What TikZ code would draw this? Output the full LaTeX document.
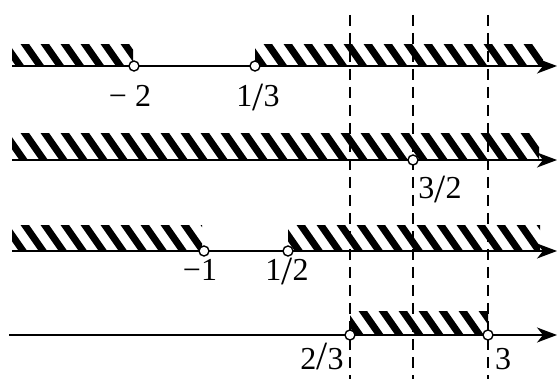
\documentclass[tikz,border=0pt]{standalone}
\usepackage{fontspec}
\setmainfont{Liberation Serif}
\usetikzlibrary{arrows.meta}
\tikzset{
 axis/.style={line width=1.6pt,-{Stealth[length=20pt,width=15pt,inset=6pt]}},
 hole/.style={circle,draw,fill=white,line width=1.4pt,minimum size=10pt,inner sep=0pt},
 guide/.style={line width=1.4pt,dash pattern=on 11pt off 7pt},
 stripe/.style={line width=7pt,black},
 lab/.style={font=\fontsize{32}{32}\selectfont,inner sep=0pt,anchor=base},
}
\newcommand\hband[4]{\begin{scope}\clip (#1,#3) rectangle (#2,#4);
 \foreach \s in {0,20,...,600}{\draw[stripe] ({#1-30+\s},{#3-5}) -- ++({0.7*(#4-#3+10)},{#4-#3+10});}\end{scope}}
\newcommand\bigsl{\raisebox{-4pt}{\fontsize{40}{40}\selectfont/}}
\newcommand\bigslb{{\fontsize{40}{40}\selectfont/}}
\begin{document}
\begin{tikzpicture}[x=1pt,y=-1pt]
\path[use as bounding box] (0,0) rectangle (557,379);
% hatched bands
\hband{12}{133}{45}{66}
\hband{255}{543}{45}{66}
\hband{12}{539}{134}{160}
\hband{12}{202}{226}{251}
\hband{288}{540}{226}{251}
\hband{350}{488}{312}{335}
% dashed guides
\coordinate (d1t) at (350,15); \coordinate (d1b) at (350,379);
\coordinate (d2t) at (413,15); \coordinate (d2b) at (413,379);
\coordinate (d3t) at (488,15); \coordinate (d3b) at (488,379);
\draw[guide] (d1t) -- (d1b);
\draw[guide] (d2t) -- (d2b);
\draw[guide] (d3t) -- (d3b);
% axes
\coordinate (a1s) at (12,66);  \coordinate (a1e) at (557,66);
\coordinate (a2s) at (12,160); \coordinate (a2e) at (557,160);
\coordinate (a3s) at (12,251); \coordinate (a3e) at (557,251);
\coordinate (a4s) at (9,335);  \coordinate (a4e) at (557,335);
\draw[axis] (a1s) -- (a1e);
\draw[axis] (a2s) -- (a2e);
\draw[axis] (a3s) -- (a3e);
\draw[axis] (a4s) -- (a4e);
% holes
\node[hole] (h1a) at (134,66) {};
\node[hole] (h1b) at (255,66) {};
\node[hole] (h2a) at (413,160) {};
\node[hole] (h3a) at (204,251) {};
\node[hole] (h3b) at (288,251) {};
\node[hole] (h4a) at (350,335) {};
\node[hole] (h4b) at (488,335) {};
% labels
\node[lab] (l1a) at (130,107) {− 2};
\node[lab] (l1b) at (258,107) {1\bigsl3};
\node[lab] (l2a) at (440,199) {3\bigsl2};
\node[lab] (l3a) at (200,281) {−1};
\node[lab] (l3b) at (287,281) {1\bigsl2};
\node[lab] (l4a) at (322,370) {2\bigslb3};
\node[lab] (l4b) at (503,370) {3};
\end{tikzpicture}
\end{document}
